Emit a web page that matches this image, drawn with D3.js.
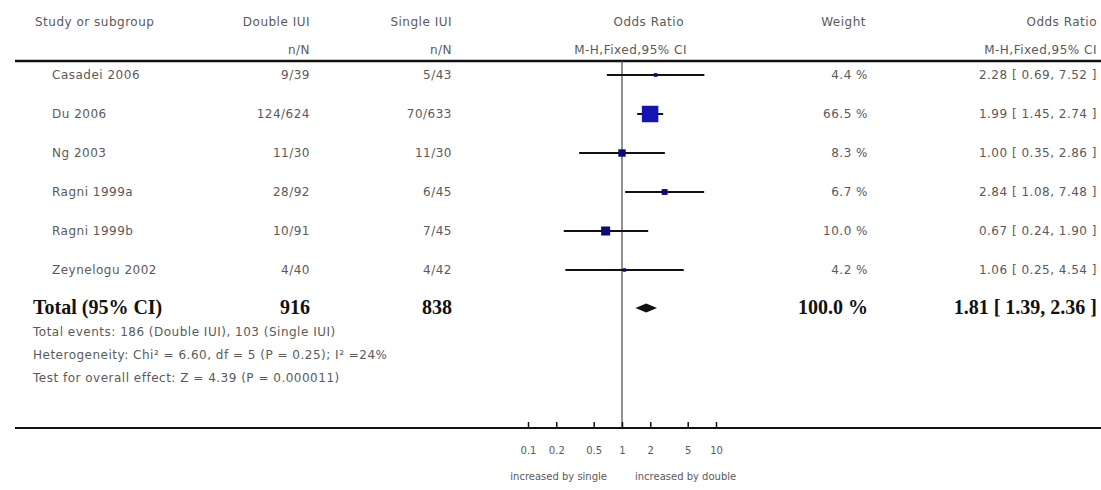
<!DOCTYPE html>
<html>
<head>
<meta charset="utf-8">
<script src="https://cdn.jsdelivr.net/npm/d3@7"></script>
<style>
  html, body { margin: 0; padding: 0; background: #fff; }
  svg { display: block; }
  .t { font-family: "DejaVu Sans", sans-serif; font-size: 12px; letter-spacing: 0.5px; fill: #5a5a5a; }
  .b { font-family: "Liberation Serif", "DejaVu Serif", serif; font-size: 20px; font-weight: bold; fill: #111; }
  .ax { font-family: "DejaVu Sans", sans-serif; font-size: 10px; fill: #5a5a5a; }
</style>
</head>
<body>
<svg id="chart" width="1101" height="490"></svg>
<script>
// ---- data ----
const studies = ["Casadei 2006", "Du 2006", "Ng 2003", "Ragni 1999a", "Ragni 1999b", "Zeynelogu 2002"];
const doubleEvents = [9, 124, 11, 28, 10, 4];
const doubleTotal  = [39, 624, 30, 92, 91, 40];
const singleEvents = [5, 70, 11, 6, 7, 4];
const singleTotal  = [43, 633, 30, 45, 45, 42];
const weights = [4.4, 66.5, 8.3, 6.7, 10.0, 4.2];
const oddsRatio = [2.28, 1.99, 1.00, 2.84, 0.67, 1.06];
const ciLow  = [0.69, 1.45, 0.35, 1.08, 0.24, 0.25];
const ciHigh = [7.52, 2.74, 2.86, 7.48, 1.90, 4.54];
const totalDouble = 916, totalSingle = 838, totalWeight = 100.0;
const totalOR = 1.81, totalLow = 1.39, totalHigh = 2.36;
const footerLines = [
  "Total events: 186 (Double IUI), 103 (Single IUI)",
  "Heterogeneity: Chi\u00B2 = 6.60, df = 5 (P = 0.25); I\u00B2 =24%",
  "Test for overall effect: Z = 4.39 (P = 0.000011)"
];
const tickValues = [0.1, 0.2, 0.5, 1, 2, 5, 10];
const tickLabels = ["0.1", "0.2", "0.5", "1", "2", "5", "10"];
const favourLeft = "increased by single";
const favourRight = "increased by double";

// ---- layout ----
const svg = d3.select("#chart");
const x = d3.scaleLog().domain([0.1, 10]).range([528, 716]);
const rowY = d3.scalePoint().domain(studies).range([75, 270]);
const size = d3.scaleLinear().domain([0, 4.2, 10, 66.5]).range([0, 3.5, 9, 16.5]);
const f2 = d3.format(".2f");
const axisY = 428, headerLineY = 61;
const col = { study: 52, dbl: 310, sgl: 452, weight: 868, or: 1097 };

// headers
const hdr = [
  {t: "Study or subgroup", x: 35, y: 22, a: "start"},
  {t: "Double IUI", x: col.dbl, y: 22, a: "end"},
  {t: "n/N", x: col.dbl, y: 50, a: "end"},
  {t: "Single IUI", x: col.sgl, y: 22, a: "end"},
  {t: "n/N", x: col.sgl, y: 50, a: "end"},
  {t: "Odds Ratio", x: 684, y: 22, a: "end"},
  {t: "M-H,Fixed,95% CI", x: 687, y: 50, a: "end"},
  {t: "Weight", x: 866, y: 22, a: "end"},
  {t: "Odds Ratio", x: col.or, y: 22, a: "end"},
  {t: "M-H,Fixed,95% CI", x: col.or, y: 50, a: "end"}
];
svg.selectAll("text.h").data(hdr).join("text")
  .attr("class", "t h").attr("x", d => d.x).attr("y", d => d.y + 4)
  .attr("text-anchor", d => d.a).text(d => d.t);

svg.append("line").attr("x1", 15).attr("x2", 1101).attr("y1", headerLineY).attr("y2", headerLineY)
  .attr("stroke", "#111").attr("stroke-width", 2.5);

// vertical line of no effect
svg.append("line").attr("x1", x(1)).attr("x2", x(1)).attr("y1", headerLineY).attr("y2", axisY)
  .attr("stroke", "#555").attr("stroke-width", 1.3);

// study rows
const rows = svg.selectAll("g.row").data(studies).join("g")
  .attr("class", "row").attr("transform", d => `translate(0,${rowY(d)})`);
rows.append("text").attr("class", "t").attr("x", col.study).attr("y", 4).text(d => d);
rows.append("text").attr("class", "t").attr("x", col.dbl).attr("y", 4).attr("text-anchor", "end")
  .text((d, i) => `${doubleEvents[i]}/${doubleTotal[i]}`);
rows.append("text").attr("class", "t").attr("x", col.sgl).attr("y", 4).attr("text-anchor", "end")
  .text((d, i) => `${singleEvents[i]}/${singleTotal[i]}`);
rows.append("text").attr("class", "t").attr("x", col.weight).attr("y", 4).attr("text-anchor", "end")
  .text((d, i) => `${weights[i].toFixed(1)} %`);
rows.append("text").attr("class", "t").attr("x", col.or).attr("y", 4).attr("text-anchor", "end")
  .text((d, i) => `${f2(oddsRatio[i])} [ ${f2(ciLow[i])}, ${f2(ciHigh[i])} ]`);
rows.append("line").attr("x1", (d, i) => x(ciLow[i])).attr("x2", (d, i) => x(ciHigh[i]))
  .attr("y1", 0).attr("y2", 0).attr("stroke", "#111").attr("stroke-width", 2);
rows.append("rect")
  .attr("x", (d, i) => x(oddsRatio[i]) - size(weights[i]) / 2)
  .attr("y", (d, i) => -size(weights[i]) / 2)
  .attr("width", (d, i) => size(weights[i]))
  .attr("height", (d, i) => size(weights[i]))
  .attr("fill", (d, i) => weights[i] > 50 ? "#1414b4" : "#0a0a78");

// total row
const ty = 308;
svg.append("text").attr("class", "b").attr("x", 33).attr("y", ty + 6).text("Total (95% CI)");
svg.append("text").attr("class", "b").attr("x", col.dbl).attr("y", ty + 6).attr("text-anchor", "end").text(totalDouble);
svg.append("text").attr("class", "b").attr("x", col.sgl).attr("y", ty + 6).attr("text-anchor", "end").text(totalSingle);
svg.append("text").attr("class", "b").attr("x", col.weight).attr("y", ty + 6).attr("text-anchor", "end").text(`${totalWeight.toFixed(1)} %`);
svg.append("text").attr("class", "b").attr("x", col.or).attr("y", ty + 6).attr("text-anchor", "end")
  .text(`${f2(totalOR)} [ ${f2(totalLow)}, ${f2(totalHigh)} ]`);
svg.append("path")
  .attr("d", `M${x(totalLow)},${ty} L${x(totalOR)},${ty - 4.5} L${x(totalHigh)},${ty} L${x(totalOR)},${ty + 4.5} Z`)
  .attr("fill", "#111");

// footer lines
svg.selectAll("text.foot").data(footerLines).join("text")
  .attr("class", "t foot").attr("x", 33).attr("y", (d, i) => [332, 355, 378][i] + 4).text(d => d);

// axis
svg.append("line").attr("x1", 15).attr("x2", 1101).attr("y1", axisY).attr("y2", axisY)
  .attr("stroke", "#111").attr("stroke-width", 2);
const axis = d3.axisBottom(x).tickValues(tickValues).tickFormat((d, i) => tickLabels[i])
  .tickSize(-6).tickPadding(19);
const gAxis = svg.append("g").attr("transform", `translate(0,${axisY})`).call(axis);
gAxis.select(".domain").remove();
gAxis.selectAll(".tick line").attr("stroke", "#111").attr("stroke-width", 1.5);
gAxis.selectAll(".tick text").attr("class", "ax").attr("font-family", null).attr("font-size", null).attr("fill", null);

svg.append("text").attr("class", "ax").attr("x", 607).attr("y", 480).attr("text-anchor", "end").text(favourLeft);
svg.append("text").attr("class", "ax").attr("x", 635).attr("y", 480).attr("text-anchor", "start").text(favourRight);
</script>
</body>
</html>
